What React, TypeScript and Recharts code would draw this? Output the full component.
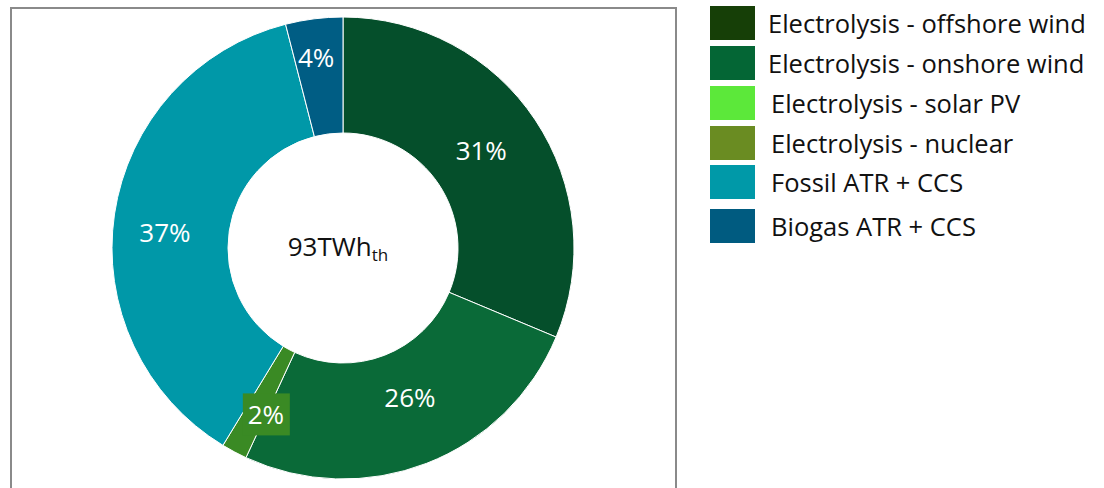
import { Cell, Legend, Pie, PieChart } from "recharts";

const categories = [
  "Electrolysis - offshore wind",
  "Electrolysis - onshore wind",
  "Electrolysis - solar PV",
  "Electrolysis - nuclear",
  "Fossil ATR + CCS",
  "Biogas ATR + CCS",
];
const shares = [31.3, 25.6, 0, 1.8, 37.3, 4.0];
const totalLabel = "93TWh";
const totalUnit = "th";

const sliceColors = ["#054f2b", "#0a6a38", "#5ce83a", "#3a8a24", "#0098a8", "#005d84"];
const legendColors = ["#163f07", "#046635", "#5ce83a", "#6a8c22", "#0099a8", "#005b80"];
// label placement tweaks: fraction across the ring, and angle shift in degrees
const labelRing = [0.47, 0.42, 0.5, 0.59, 0.55, 0.67];
const labelShift = [1.7, 2.9, 0, 3.2, 3.4, 0.8];
const legendRowTop = [6, 46, 86, 126, 165, 209];

const data = categories.map((name, i) => ({ name, value: shares[i] }));
const FONT = "'Open Sans', sans-serif";
const RAD = Math.PI / 180;

const renderLabel = (props: any) => {
  const { cx, cy, midAngle, innerRadius, outerRadius, value, index } = props;
  if (!value) return null;
  const r = innerRadius + (outerRadius - innerRadius) * labelRing[index];
  const a = (midAngle + labelShift[index]) * RAD;
  const x = cx + r * Math.cos(-a);
  const y = cy + r * Math.sin(-a);
  return (
    <g>
      {index === 3 && (
        <rect x={x - 23} y={y - 21} width={47} height={42} fill={sliceColors[3]} />
      )}
      <text
        x={x}
        y={y}
        fill="#fff"
        fontSize={26}
        fontFamily={FONT}
        textAnchor="middle"
        dominantBaseline="central"
      >
        {Math.round(value)}%
      </text>
    </g>
  );
};

const LegendBox = () => (
  <div style={{ position: "relative", width: 390, height: 250 }}>
    {categories.map((c, i) => (
      <div
        key={c}
        style={{
          position: "absolute",
          left: 0,
          top: legendRowTop[i],
          display: "flex",
          alignItems: "center",
        }}
      >
        <div style={{ width: 45, height: 34, background: legendColors[i] }} />
        <span
          style={{
            marginLeft: i < 2 ? 13 : 16,
            fontSize: 25.5,
            fontFamily: FONT,
            color: "#111",
            whiteSpace: "nowrap",
          }}
        >
          {c}
        </span>
      </div>
    ))}
  </div>
);

export default function App() {
  return (
    <div
      style={{
        position: "absolute",
        left: 0,
        top: 0,
        width: 1104,
        height: 488,
        overflow: "hidden",
        background: "#fff",
      }}
    >
      <div
        style={{
          position: "absolute",
          left: 10,
          top: 7,
          width: 663,
          height: 520,
          border: "2px solid #8a8a8a",
        }}
      />
      <PieChart
        width={1104}
        height={488}
        margin={{ top: 0, right: 0, bottom: 0, left: 0 }}
        style={{ position: "absolute", left: 0, top: 0 }}
      >
        <Pie
          data={data}
          dataKey="value"
          cx={343}
          cy={248}
          innerRadius={115}
          outerRadius={231}
          startAngle={90}
          endAngle={-270}
          stroke="#fff"
          strokeWidth={1}
          label={renderLabel}
          labelLine={false}
          isAnimationActive={false}
        >
          {data.map((d, i) => (
            <Cell key={d.name} fill={sliceColors[i]} />
          ))}
        </Pie>
        <text
          x={338}
          y={246}
          textAnchor="middle"
          dominantBaseline="central"
          fontFamily={FONT}
          fontSize={26}
          fill="#111"
        >
          {totalLabel}
          <tspan fontSize={17} dy={8} fill="#111">
            {totalUnit}
          </tspan>
        </text>
        <Legend
          content={() => <LegendBox />}
          wrapperStyle={{ position: "absolute", left: 710, top: 0, width: 390 }}
        />
      </PieChart>
    </div>
  );
}
